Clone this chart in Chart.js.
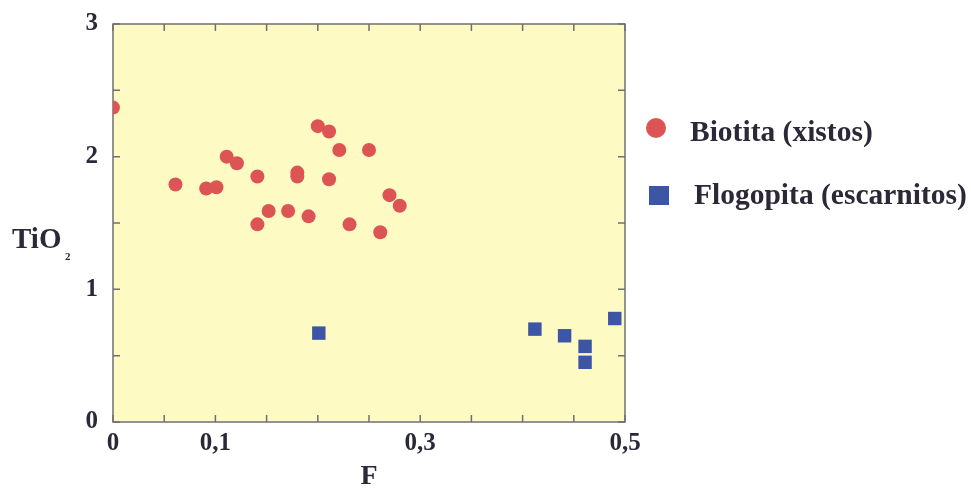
<!DOCTYPE html>
<html>
<head>
<meta charset="utf-8">
<script src="https://cdn.jsdelivr.net/npm/chart.js@4.4.1/dist/chart.umd.min.js"></script>
<style>
  html, body { margin: 0; padding: 0; background: #fff; }
  #wrap { width: 971px; height: 489px; position: relative; }
</style>
</head>
<body>
<div id="wrap"><canvas id="tioChart"></canvas></div>
<script>
// DATA
const seriesNames = ['Biotita (xistos)', 'Flogopita (escarnitos)'];

const biotitaF    = [0.000, 0.061, 0.091, 0.101, 0.111, 0.121, 0.141, 0.141, 0.152, 0.171, 0.180,
                     0.180, 0.191, 0.200, 0.211, 0.211, 0.221, 0.231, 0.250, 0.261, 0.270, 0.280];
const biotitaTiO2 = [2.37, 1.79, 1.76, 1.77, 2.00, 1.95, 1.85, 1.49, 1.59, 1.59, 1.88,
                     1.85, 1.55, 2.23, 2.19, 1.83, 2.05, 1.49, 2.05, 1.43, 1.71, 1.63];

const flogopitaF    = [0.201, 0.412, 0.441, 0.461, 0.461, 0.490];
const flogopitaTiO2 = [0.67, 0.70, 0.65, 0.57, 0.45, 0.78];

const xLabelValues = [0, 0.1, 0.3, 0.5];
const xLabelTexts  = ['0', '0,1', '0,3', '0,5'];
const yLabelValues = [0, 1, 2, 3];
const yLabelTexts  = ['0', '1', '2', '3'];

const RED = '#dc5454';
const BLUE = '#3d55a5';
const INK = '#2d2838';
const SERIF = '"Liberation Serif", "Times New Roman", serif';

function toPoints(xs, ys) {
    return xs.map((x, i) => ({ x: x, y: ys[i] }));
}

function findLabel(values, texts, v) {
    const i = values.findIndex(t => Math.abs(t - v) < 1e-6);
    return i >= 0 ? texts[i] : '';
}

// frame, yellow plot area and inward ticks on all four sides
const framePlugin = {
    id: 'frame',
    beforeDatasetsDraw(chart) {
        const { ctx, chartArea: a, scales } = chart;
        ctx.save();
        ctx.fillStyle = '#fdfbc3';
        ctx.fillRect(a.left, a.top, a.right - a.left, a.bottom - a.top);

        ctx.strokeStyle = '#707070';
        ctx.lineWidth = 1.5;
        ctx.strokeRect(a.left, a.top, a.right - a.left, a.bottom - a.top);

        const len = 7;
        ctx.beginPath();
        scales.x.ticks.forEach(t => {
            const px = scales.x.getPixelForValue(t.value);
            ctx.moveTo(px, a.bottom); ctx.lineTo(px, a.bottom - len);
            ctx.moveTo(px, a.top);    ctx.lineTo(px, a.top + len);
        });
        scales.y.ticks.forEach(t => {
            const py = scales.y.getPixelForValue(t.value);
            ctx.moveTo(a.left, py);  ctx.lineTo(a.left + len, py);
            ctx.moveTo(a.right, py); ctx.lineTo(a.right - len, py);
        });
        ctx.stroke();
        ctx.restore();
    },
    afterDraw(chart) {
        const { ctx, chartArea: a } = chart;
        ctx.save();
        ctx.fillStyle = INK;
        ctx.textBaseline = 'alphabetic';

        // y axis title, horizontal with subscript
        ctx.font = 'bold 29px ' + SERIF;
        ctx.fillText('TiO', 12, 248);
        ctx.font = 'bold 11px ' + SERIF;
        ctx.fillText('2', 65, 260);

        // legend
        const ds = chart.data.datasets;
        const lx = a.right + 31;
        ctx.fillStyle = ds[0].backgroundColor;
        ctx.beginPath();
        ctx.arc(lx, 128, 10, 0, Math.PI * 2);
        ctx.fill();
        ctx.fillStyle = ds[1].backgroundColor;
        ctx.fillRect(lx - 7, 186, 20, 19);

        ctx.fillStyle = INK;
        ctx.font = 'bold 29.5px ' + SERIF;
        ctx.textBaseline = 'middle';
        ctx.fillText(ds[0].label, lx + 34, 133);
        ctx.fillText(ds[1].label, lx + 38, 196);
        ctx.restore();
    }
};

const ctx = document.getElementById('tioChart').getContext('2d');
const tioChart = new Chart(ctx, {
    type: 'scatter',
    data: {
        datasets: [{
            label: seriesNames[0],
            data: toPoints(biotitaF, biotitaTiO2),
            pointStyle: 'circle',
            pointRadius: 7,
            backgroundColor: RED,
            borderColor: RED,
            borderWidth: 0
        }, {
            label: seriesNames[1],
            data: toPoints(flogopitaF, flogopitaTiO2),
            pointStyle: 'rect',
            pointRadius: 9.5,
            backgroundColor: BLUE,
            borderColor: BLUE,
            borderWidth: 0
        }]
    },
    options: {
        responsive: true,
        maintainAspectRatio: false,
        animation: false,
        devicePixelRatio: 1,
        layout: { padding: { left: 0, top: 24, right: 346, bottom: 0 } },
        plugins: {
            legend: { display: false },
            tooltip: { enabled: false }
        },
        scales: {
            x: {
                type: 'linear',
                min: 0,
                max: 0.5,
                grid: { display: false, drawTicks: false },
                border: { display: false },
                ticks: {
                    stepSize: 0.05,
                    padding: 7,
                    maxRotation: 0,
                    autoSkip: false,
                    color: INK,
                    font: { family: SERIF, weight: 'bold', size: 25 },
                    callback: v => findLabel(xLabelValues, xLabelTexts, v)
                },
                title: {
                    display: true,
                    text: 'F',
                    color: INK,
                    font: { family: SERIF, weight: 'bold', size: 28, lineHeight: 1 },
                    padding: { top: 0, bottom: -2 }
                },
                afterFit: s => { s.height = 67; s.paddingLeft = 0; s.paddingRight = 0; }
            },
            y: {
                type: 'linear',
                min: 0,
                max: 3,
                grid: { display: false, drawTicks: false },
                border: { display: false },
                ticks: {
                    stepSize: 0.5,
                    padding: 15,
                    autoSkip: false,
                    color: INK,
                    font: { family: SERIF, weight: 'bold', size: 25 },
                    callback: v => findLabel(yLabelValues, yLabelTexts, v)
                },
                afterFit: s => { s.width = 113; s.paddingTop = 0; s.paddingBottom = 0; }
            }
        }
    },
    plugins: [framePlugin]
});
</script>
</body>
</html>
